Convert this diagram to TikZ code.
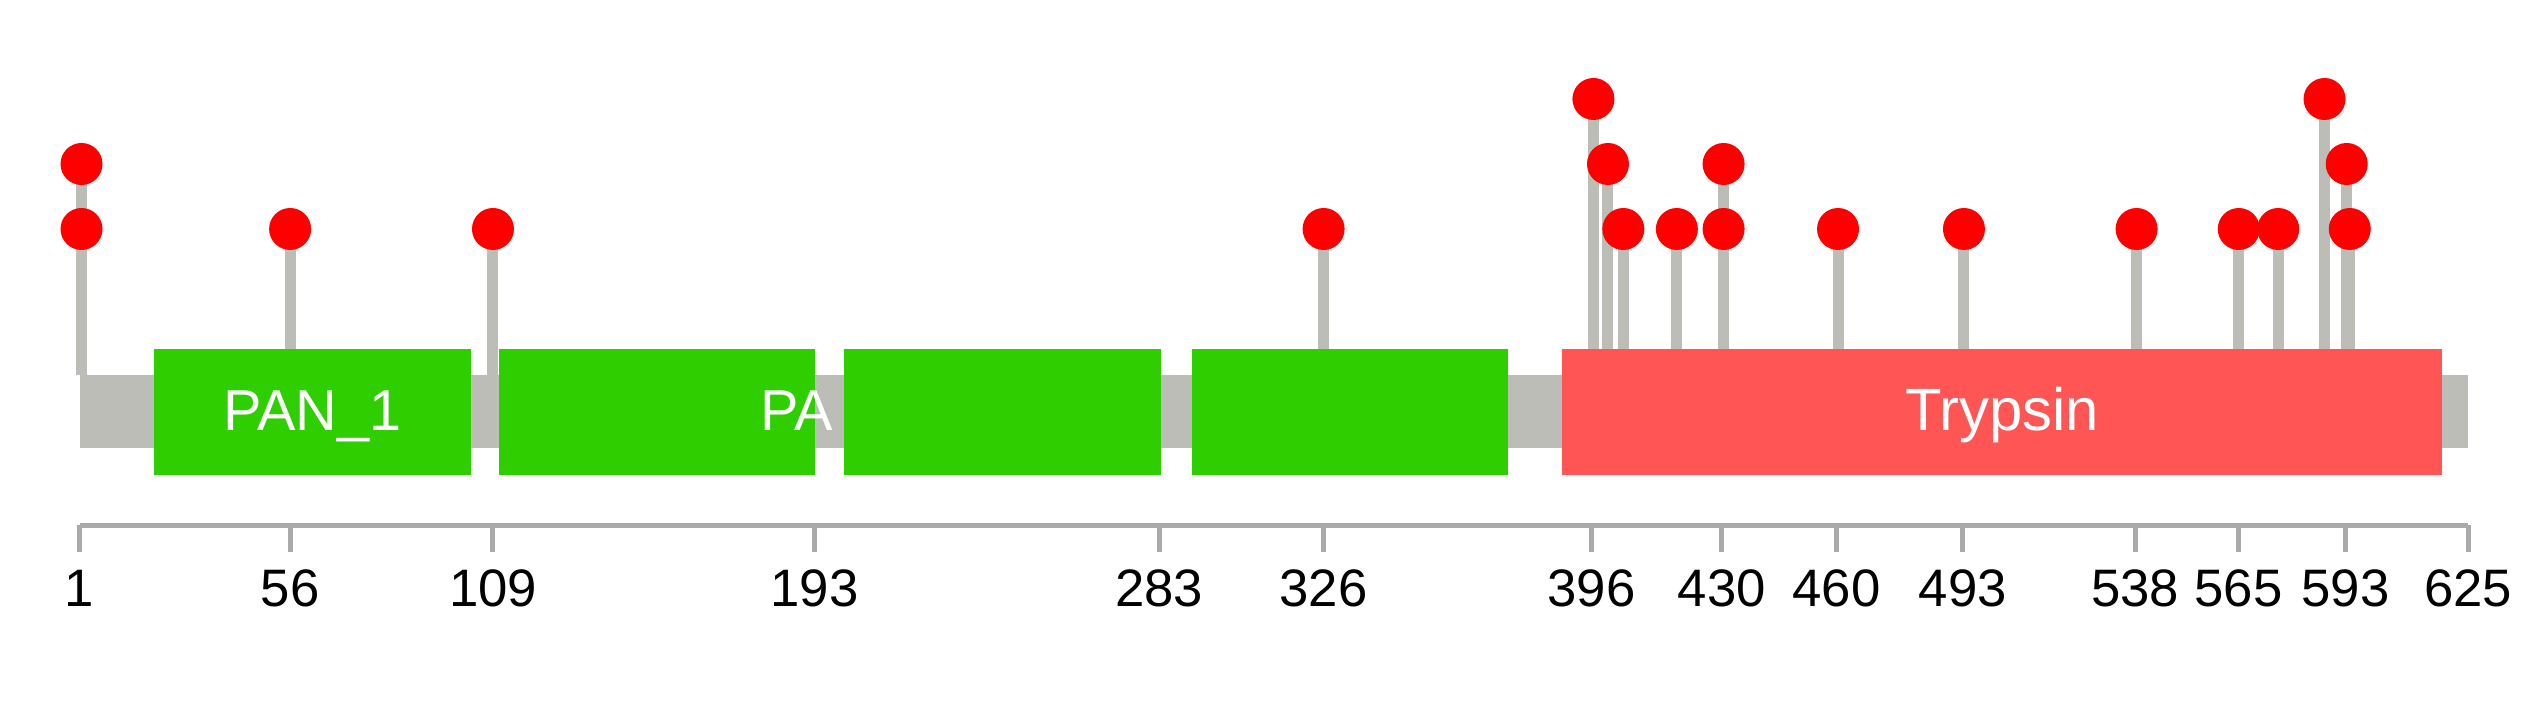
\documentclass[tikz,border=0pt]{standalone}
\usepackage{fontspec}
\setmainfont{Liberation Sans}
\usepackage{tikz}
\usetikzlibrary{positioning}
\definecolor{mygreen}{RGB}{46,206,0}
\definecolor{mysalmon}{RGB}{255,85,85}
\definecolor{mygray}{RGB}{187,189,182}
\definecolor{myaxis}{RGB}{170,170,170}
\definecolor{mydot}{RGB}{255,0,0}
\tikzset{
  backbone/.style={fill=mygray, draw=none},
  pfambox/.style={fill=mygreen, draw=none},
  trypbox/.style={fill=mysalmon, draw=none},
  domlabel/.style={text=white, font=\fontsize{16.4pt}{19pt}\selectfont,
    inner sep=0pt, anchor=base},
  stem/.style={draw=mygray, line width=1.1mm},
  mutdot/.style={circle, fill=mydot, draw=none, minimum size=4.2mm, inner sep=0pt},
  axisline/.style={draw=myaxis, line width=0.5mm},
  ticklabel/.style={font=\fontsize{15pt}{18pt}\selectfont, inner sep=0pt, anchor=base}
}

\begin{document}
\begin{tikzpicture}[x=0.38277mm, y=-0.1mm]
  \useasboundingbox (-0.7577cm,0cm) rectangle (24.7023cm,-7.08cm);

  % Stems of the mutation lollipops (residue/height)
  \foreach \p/\lv [count=\i] in {1.5/229, 1.5/164, 56/229, 109/229, 326/229,
      396.5/99, 400.3/164, 404.3/229, 418.3/229, 430.5/229, 430.5/164,
      460.4/229, 493.3/229, 538.4/229, 565.1/229, 575.4/229,
      587.5/99, 593.3/164, 594.1/229} {
    \coordinate (base\i) at (\p,375);
    \coordinate (tip\i) at (\p,\lv);
    \draw[stem] (base\i) -- (tip\i);
  }

  % Protein backbone
  \fill[backbone] (1,375) rectangle (625,448);

  % Domains
  \fill[pfambox] (20.5,349) rectangle (103.2,475);
  \node[domlabel] (pan1) at (61.85,431) {PAN\_1};
  \fill[pfambox] (110.5,349) rectangle (193.2,475);
  \node[domlabel, anchor=base west] (pan2) at (178.7,431) {PA};
  \fill[pfambox] (200.8,349) rectangle (283.5,475);
  \fill[pfambox] (291.6,349) rectangle (374.3,475);
  \fill[trypbox] (388.3,349) rectangle (618.3,475);
  \node[domlabel, font=\fontsize{17pt}{20pt}\selectfont] (tryp) at (503.3,431) {Trypsin};

  % Mutation heads
  \foreach \i in {1,...,19} {
    \node[mutdot] (dot\i) at (tip\i) {};
  }

  % Residue axis
  \draw[axisline] (1,525) -- (625,525);
  \foreach \t in {1, 56, 109, 193, 283, 326, 396, 430, 460, 493, 538, 565, 593, 625} {
    \draw[axisline] (\t,525) -- (\t,552);
    \node[ticklabel] (tick\t) at (\t,606) {\t};
  }
\end{tikzpicture}
\end{document}
